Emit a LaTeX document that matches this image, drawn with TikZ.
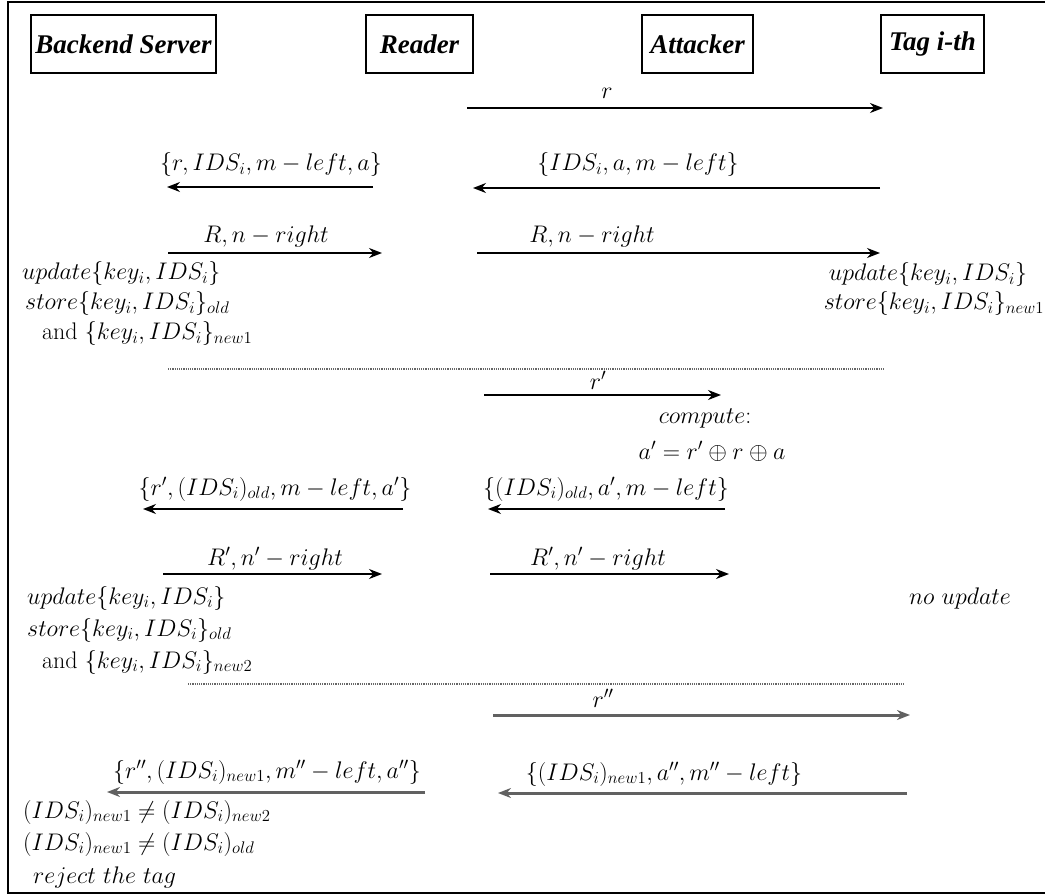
\RequirePackage{fix-cm}
\documentclass[tikz,border=0pt]{standalone}
\usepackage{fontspec}
\usepackage{amsmath,amssymb}
\newfontfamily\headfont{Liberation Serif}
\usetikzlibrary{arrows.meta}

\begin{document}
\begin{tikzpicture}[x=1pt,y=-1pt,
    party/.style={draw,line width=1.4pt,minimum height=58pt,inner sep=0pt,
      font=\headfont\bfseries\itshape\fontsize{27}{30}\selectfont},
    msg/.style={line width=1.6pt,-{Stealth[length=13pt,width=10pt]}},
    faded/.style={msg,line width=3pt,draw=black!62},
    sep/.style={densely dotted,line width=1.2pt,draw=black!60},
    txt/.style={inner sep=0pt,font=\fontsize{24}{28}\selectfont}]
    \useasboundingbox (0,0) rectangle (1045,896);
    \draw[line width=1.6pt] (1060,2) -| (8,893) -- (1060,893);
    % parties
    \node[party,minimum width=185pt] (server) at (123.5,44) {Backend Server};
    \node[party,minimum width=107pt] (reader) at (419.5,44) {Reader};
    \node[party,minimum width=111pt] (attacker) at (697.5,44) {Attacker};
    \node[party,minimum width=103pt] (tag) at (932.5,44) {Tag i-th};
    % first session
    \coordinate (q1a) at (467,108);
    \coordinate (q1b) at (883,108);
    \draw[msg] (q1a) -- (q1b);
    \node[txt] (q1) at (607,93) {$r$};
    \coordinate (t1a) at (880,188);
    \coordinate (t1b) at (473,188);
    \draw[msg] (t1a) -- (t1b);
    \node[txt] (t1) at (638,165) {$\{IDS_i, a, m-left\}$};
    \coordinate (f1a) at (373,187);
    \coordinate (f1b) at (167,187);
    \draw[msg] (f1a) -- (f1b);
    \node[txt] (f1) at (271,165) {$\{r, IDS_i, m-left, a\}$};
    \coordinate (b1a) at (168,253);
    \coordinate (b1b) at (382,253);
    \draw[msg] (b1a) -- (b1b);
    \node[txt] (b1) at (266,237) {$R, n-right$};
    \coordinate (g1a) at (477,253);
    \coordinate (g1b) at (880,253);
    \draw[msg] (g1a) -- (g1b);
    \node[txt] (g1) at (592,237) {$R, n-right$};
    \node[txt,anchor=west] (su1) at (22,274) {$update\{key_i, IDS_i\}$};
    \node[txt,anchor=west] (ss1) at (25,304) {$store\{key_i, IDS_i\}_{old}$};
    \node[txt,anchor=west] (sa1) at (42,334) {and $\{key_i, IDS_i\}_{new1}$};
    \node[txt] (tu1) at (928,275) {$update\{key_i, IDS_i\}$};
    \node[txt] (ts1) at (934,304) {$store\{key_i, IDS_i\}_{new1}$};
    \coordinate (d1a) at (168,369);
    \coordinate (d1b) at (885,369);
    \draw[sep] (d1a) -- (d1b);
    % second session
    \coordinate (q2a) at (484,395);
    \coordinate (q2b) at (721,395);
    \draw[msg] (q2a) -- (q2b);
    \node[txt] (q2) at (598,380) {$r'$};
    \node[txt] (cmp) at (705,418) {$compute{:}$};
    \node[txt] (xor) at (712,451) {$a' = r' \oplus r \oplus a$};
    \coordinate (t2a) at (725,509);
    \coordinate (t2b) at (488,509);
    \draw[msg] (t2a) -- (t2b);
    \node[txt] (t2) at (606,489) {$\{(IDS_i)_{old}, a', m-left\}$};
    \coordinate (f2a) at (403,509);
    \coordinate (f2b) at (143,509);
    \draw[msg] (f2a) -- (f2b);
    \node[txt] (f2) at (275,489) {$\{r', (IDS_i)_{old}, m-left, a'\}$};
    \coordinate (b2a) at (163,574);
    \coordinate (b2b) at (382,574);
    \draw[msg] (b2a) -- (b2b);
    \node[txt] (b2) at (275,559) {$R', n'-right$};
    \coordinate (g2a) at (490,574);
    \coordinate (g2b) at (729,574);
    \draw[msg] (g2a) -- (g2b);
    \node[txt] (g2) at (598,559) {$R', n'-right$};
    \node[txt] (nou) at (960,598) {$no\ update$};
    \node[txt,anchor=west] (su2) at (27,598) {$update\{key_i, IDS_i\}$};
    \node[txt,anchor=west] (ss2) at (27,630) {$store\{key_i, IDS_i\}_{old}$};
    \node[txt,anchor=west] (sa2) at (42,662) {and $\{key_i, IDS_i\}_{new2}$};
    \coordinate (d2a) at (188,684);
    \coordinate (d2b) at (905,684);
    \draw[sep] (d2a) -- (d2b);
    % third session
    \coordinate (q3a) at (493,715);
    \coordinate (q3b) at (910,715);
    \draw[faded] (q3a) -- (q3b);
    \node[txt] (q3) at (603,698) {$r''$};
    \coordinate (t3a) at (907,793);
    \coordinate (t3b) at (498,793);
    \draw[faded] (t3a) -- (t3b);
    \node[txt] (t3) at (664,774) {$\{(IDS_i)_{new1}, a'', m''-left\}$};
    \coordinate (f3a) at (425,792);
    \coordinate (f3b) at (107,792);
    \draw[faded] (f3a) -- (f3b);
    \node[txt] (f3) at (267,772) {$\{r'', (IDS_i)_{new1}, m''-left, a''\}$};
    \node[txt,anchor=west] (ck1) at (23,812) {$(IDS_i)_{new1} \neq (IDS_i)_{new2}$};
    \node[txt,anchor=west] (ck2) at (23,844) {$(IDS_i)_{new1} \neq (IDS_i)_{old}$};
    \node[txt,anchor=west] (rej) at (33,877) {$reject\ the\ tag$};
\end{tikzpicture}
\end{document}
